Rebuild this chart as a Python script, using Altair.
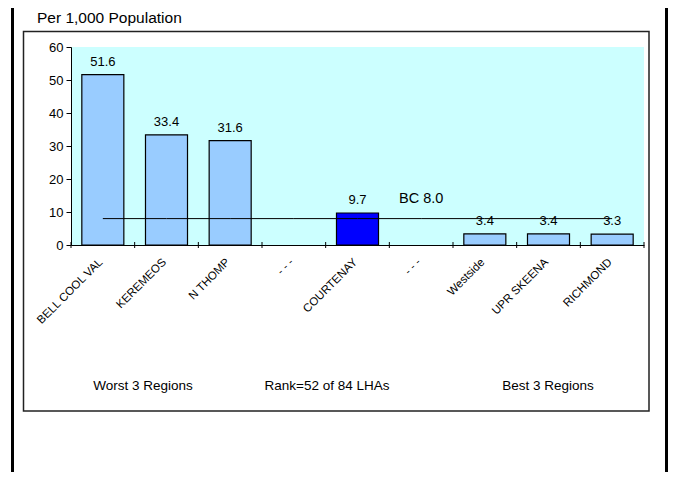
import altair as alt
import pandas as pd

# ---- data ----
categories = ["BELL COOL VAL", "KEREMEOS", "N THOMP", "- - -", "COURTENAY",
              "- - - ", "Westside", "UPR SKEENA", "RICHMOND"]
rates = [51.6, 33.4, 31.6, None, 9.7, None, 3.4, 3.4, 3.3]
highlight = [False, False, False, False, True, False, False, False, False]
bc_rate = 8.0
y_ticks = [0, 10, 20, 30, 40, 50, 60]
unit_label = "Per 1,000 Population"
group_labels = ["Worst 3 Regions", "Rank=52 of 84 LHAs", "Best 3 Regions"]

df = pd.DataFrame({"region": categories, "rate": rates, "highlight": highlight})
df["bc"] = bc_rate
bc_df = pd.DataFrame({"region": [categories[5]], "bc": [bc_rate],
                      "label": [f"BC {bc_rate:.1f}"]})
dummy = pd.DataFrame({"a": [0]})

FONT = "Liberation Sans"
W, H = 573, 198

xscale = alt.Scale(paddingInner=0, paddingOuter=0)
x_axis_obj = alt.Axis(labelAngle=-45, labelFont=FONT, labelFontSize=11.5,
                      labelColor="black", ticks=False, domainColor="black",
                      labelPadding=11, labelOffset=-6, labelLimit=200,
                      labelOverlap=False)
yscale = alt.Scale(domain=[0, 60], nice=False)
y_axis_obj = alt.Axis(values=y_ticks, tickCount=7, grid=False, tickSize=5,
                      tickColor="black", domainColor="black", labelFont=FONT,
                      labelFontSize=13, labelColor="black", labelPadding=3,
                      labelOverlap=False, labelBound=False, labelFlush=False)


def xenc(**kw):
    return alt.X("region:N", sort=categories, scale=xscale, title=None,
                 axis=x_axis_obj, **kw)


def yenc(field):
    return alt.Y(field, scale=yscale, title=None, axis=y_axis_obj)


bars = alt.Chart(df).mark_bar(width=alt.RelativeBandSize(0.66), stroke="black",
                              strokeWidth=1.2).encode(
    x=xenc(), y=yenc("rate:Q"),
    color=alt.condition("datum.highlight", alt.value("#0000FF"), alt.value("#99CCFF")),
)

values = alt.Chart(df).transform_filter("isValid(datum.rate)").mark_text(
    font=FONT, fontSize=13, dy=-9, baseline="alphabetic", color="black").encode(
    x=xenc(), y=yenc("rate:Q"), text=alt.Text("rate:Q", format=".1f"))

bc_line = alt.Chart(df).mark_line(color="black", strokeWidth=1).encode(
    x=xenc(), y=yenc("bc:Q"))

bc_text = alt.Chart(bc_df).mark_text(font=FONT, fontSize=14.5, dy=-20,
                                     baseline="middle", color="black").encode(
    x=xenc(), y=yenc("bc:Q"), text="label:N")

ticks = alt.Chart(df).mark_rule(color="black").encode(
    x=xenc(bandPosition=0), y=alt.value(H - 3), y2=alt.value(H + 3))
end_tick = alt.Chart(dummy).mark_rule(color="black").encode(
    x=alt.value(W), y=alt.value(H - 3), y2=alt.value(H + 3))

box = alt.Chart(dummy).mark_rect(fill="transparent", stroke="#222",
                                 strokeWidth=1.5).encode(
    x=alt.value(-47.5), x2=alt.value(578), y=alt.value(-15.5), y2=alt.value(364))
left_frame = alt.Chart(dummy).mark_rule(color="black", strokeWidth=3).encode(
    x=alt.value(-58.5), y=alt.value(-39), y2=alt.value(425))
right_frame = alt.Chart(dummy).mark_rule(color="black", strokeWidth=3).encode(
    x=alt.value(595.5), y=alt.value(-39), y2=alt.value(425))

unit = alt.Chart(dummy).mark_text(text=unit_label, font=FONT, fontSize=15.5,
                                  align="left", baseline="middle", color="black").encode(
    x=alt.value(-34), y=alt.value(-29))

group_x = [72, 256, 477]
groups = [alt.Chart(dummy).mark_text(text=t, font=FONT, fontSize=13.5, align="center",
                                     baseline="middle", color="black").encode(
    x=alt.value(gx), y=alt.value(339)) for t, gx in zip(group_labels, group_x)]

chart = alt.layer(bars, bc_line, values, bc_text, ticks, end_tick, box,
                  left_frame, right_frame, unit, *groups).properties(
    width=W, height=H,
    autosize=alt.AutoSizeParams(type="none"),
    padding={"left": 63, "top": 39, "right": 24, "bottom": 227},
    background="white",
).configure_view(fill="#CCFFFF", stroke=None)

chart.save("out.html", embed_options={"renderer": "svg", "actions": False})
